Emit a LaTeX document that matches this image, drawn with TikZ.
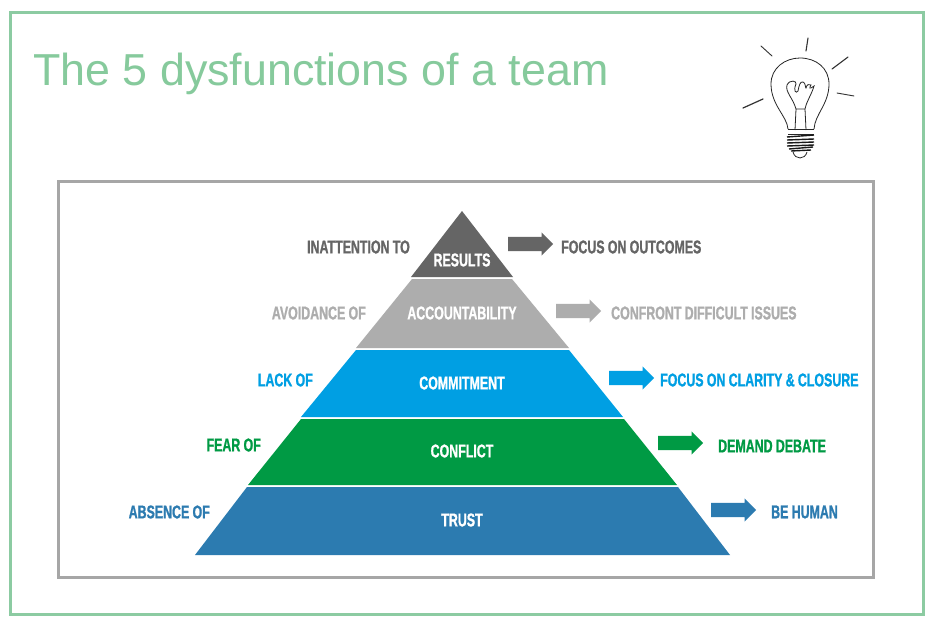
\documentclass[tikz,border=0pt]{standalone}
\usepackage{fontspec}
\usepackage{xcolor}
\usetikzlibrary{shapes.arrows}
\setmainfont{Liberation Sans}
\newfontfamily\bandfont[FakeStretch=0.67,FakeBold=1,WordSpace=0.95]{Liberation Sans Bold}
\definecolor{framegreen}{HTML}{8CCBA2}
\definecolor{titlegreen}{HTML}{86CA9C}
\definecolor{framegray}{HTML}{A6A6A6}
\definecolor{resultsc}{HTML}{656565}
\definecolor{accountc}{HTML}{ADADAD}
\definecolor{commitc}{HTML}{009FE3}
\definecolor{conflictc}{HTML}{009A44}
\definecolor{trustc}{HTML}{2C7BB0}
\begin{document}
\begin{tikzpicture}[
            x=1pt, y=-1pt,
            band/.style={font=\bandfont\fontsize{18.5}{19}\selectfont, text=white, inner sep=0pt},
            lbl/.style={font=\bandfont\fontsize{18.5}{19}\selectfont, inner sep=0pt},
            arw/.style={single arrow, draw=none, inner xsep=0pt, inner ysep=7pt, minimum height=45pt, single arrow head extend=4.5pt, single arrow tip angle=90},
            ray/.style={line width=0.9pt, line cap=round, black!80}
        ]
            \useasboundingbox (0,0) rectangle (934,624);
            \fill[white] (0,0) rectangle (934,624);
            \draw[framegreen, line width=3pt] (10,12) rectangle (923,614);
            \draw[framegray, line width=3pt] (58,181) rectangle (873,577);
            \node[anchor=base west, inner sep=0pt, text=titlegreen, font=\fontsize{44.8}{47}\selectfont] (title) at (33,85) {The 5 dysfunctions of a team};

            % pyramid bands
            \fill[resultsc] (462,211) -- (513,277) -- (411,277) -- cycle;
            \fill[accountc] (512,279) -- (569,348) -- (356,348) -- (412,279) -- cycle;
            \fill[commitc] (569,350) -- (623,417) -- (301,417) -- (356,350) -- cycle;
            \fill[conflictc] (624,419) -- (677,485) -- (248,485) -- (301,419) -- cycle;
            \fill[trustc] (678,487) -- (730,555) -- (195,555) -- (247,487) -- cycle;

            \node[band] (results) at (462,260) {RESULTS};
            \node[band] (account) at (462,313) {ACCOUNTABILITY};
            \node[band] (commit) at (462,383) {COMMITMENT};
            \node[band] (conflict) at (462,451) {CONFLICT};
            \node[band] (trust) at (462,520) {TRUST};

            % what goes wrong
            \node[lbl, anchor=east, text=resultsc] (inatt) at (410,247) {INATTENTION TO};
            \node[lbl, anchor=east, text=accountc] (avoid) at (366,313) {AVOIDANCE OF};
            \node[lbl, anchor=east, text=commitc] (lack) at (313,380) {LACK OF};
            \node[lbl, anchor=east, text=conflictc] (fear) at (261,445) {FEAR OF};
            \node[lbl, anchor=east, text=trustc] (absence) at (210,512) {ABSENCE OF};

            % arrows and what to do
            \node[arw, fill=resultsc, anchor=west] (arrow1) at (508,244) {};
            \node[arw, fill=accountc, anchor=west] (arrow2) at (556,311) {};
            \node[arw, fill=commitc, anchor=west] (arrow3) at (609,378) {};
            \node[arw, fill=conflictc, anchor=west] (arrow4) at (658,443) {};
            \node[arw, fill=trustc, anchor=west] (arrow5) at (711,510) {};
            \node[lbl, anchor=west, text=resultsc] (outcomes) at (561,247) {FOCUS ON OUTCOMES};
            \node[lbl, anchor=west, text=accountc] (issues) at (611,313) {CONFRONT DIFFICULT ISSUES};
            \node[lbl, anchor=west, text=commitc] (clarity) at (660,380) {FOCUS ON CLARITY \& CLOSURE};
            \node[lbl, anchor=west, text=conflictc] (debate) at (718,446) {DEMAND DEBATE};
            \node[lbl, anchor=west, text=trustc] (human) at (771,512) {BE HUMAN};

            % light bulb
            \draw[ray] (761,46) -- (772,56);
            \draw[ray, line width=1.1pt] (808,38) -- (806,51);
            \draw[ray, line width=1.1pt] (848,57) -- (832,69);
            \draw[ray] (837,93) -- (854,96);
            \draw[ray, line width=1.2pt] (763,99) -- (743,108);
            \draw[line width=0.8pt, black!85] (788,129) .. controls (787,116) and (771,105) .. (771,84)
                .. controls (771,68) and (785,58) .. (800,58)
                .. controls (816,58) and (829,68) .. (829,84)
                .. controls (829,104) and (815,114) .. (814,129);
            \draw[line width=0.8pt, black!85] (796,109) -- (795,130) (805,109) -- (806,130)
                (796,109) -- (805,109);
            \draw[line width=0.8pt, black!85] (796,109) .. controls (793,98) and (785,92) .. (787,85)
                .. controls (790,79) and (797,81) .. (796,84)
                .. controls (793,91) and (796,94) .. (798,91) .. controls (799,86) and (800,81) .. (803,82)
                .. controls (806,83) and (805,88) .. (806,88) .. controls (807,84) and (809,84) .. (811,85)
                .. controls (809,88) and (810,89) .. (811,88) -- (814,86)
                .. controls (811,96) and (807,100) .. (805,109);
            \draw[line width=0.8pt, black!85] (788,129) -- (814,129) (788,134) -- (814,134);
            \draw[line width=1.4pt, black!90] (787,137) -- (814,135) (787,140) -- (814,139)
                (787,143) -- (814,142) (787,146) -- (814,145)
                (789,149) -- (813,147) (791,151) -- (811,150);
            \draw[line width=0.8pt, black!85] (793,152) .. controls (795,160) and (805,160) .. (807,152);
        \end{tikzpicture}
\end{document}
